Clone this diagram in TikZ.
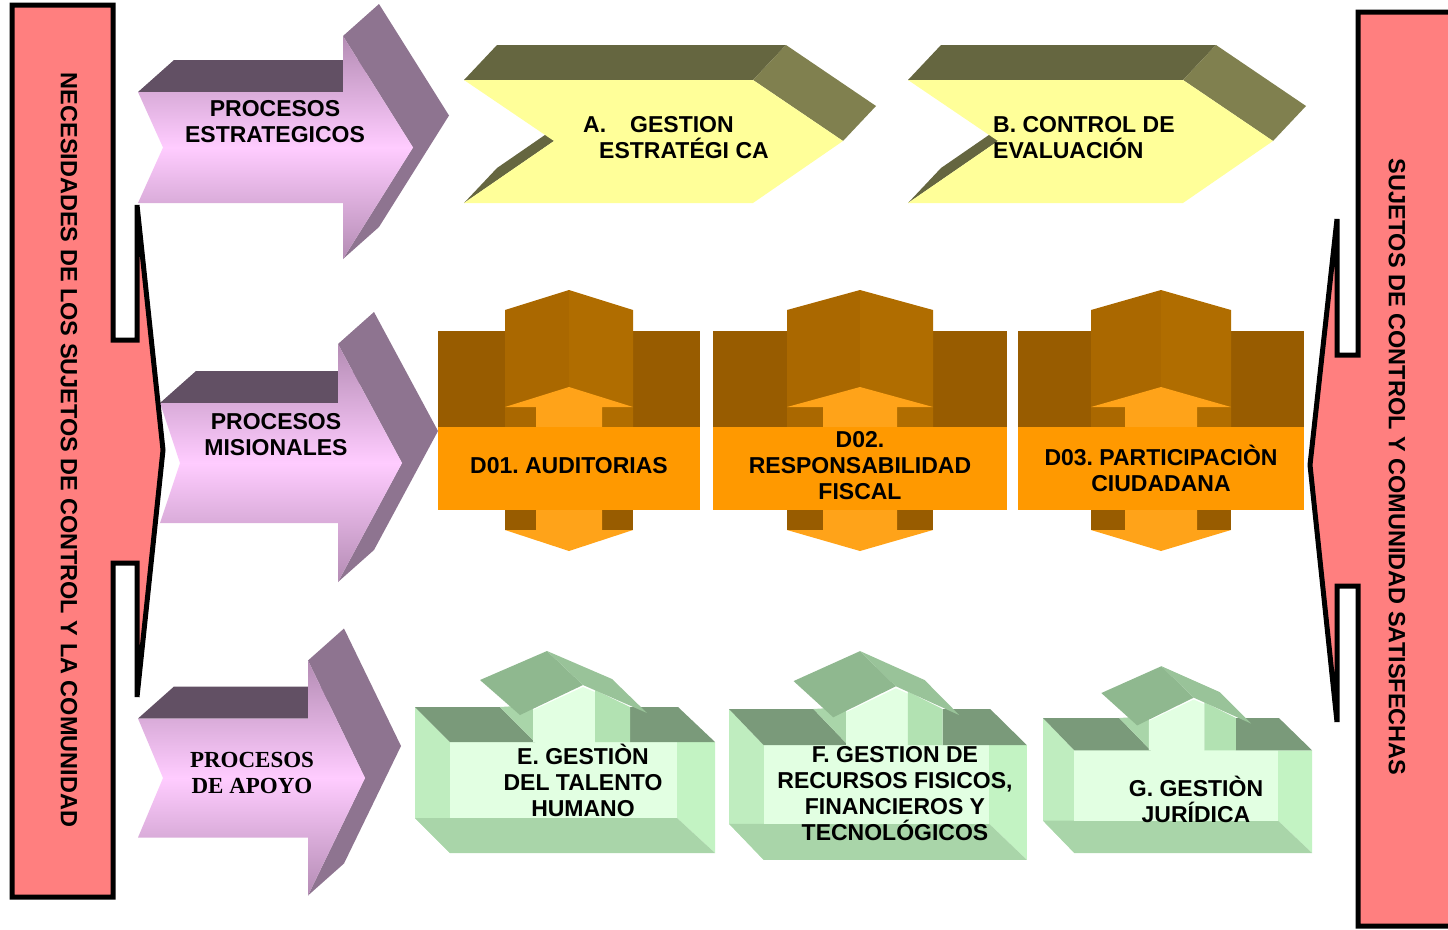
\documentclass[tikz,border=0pt]{standalone}
\usepackage{fontspec}
\setmainfont{Liberation Sans}
\newfontfamily\apoyofont{Liberation Serif}
\usepackage{xcolor}
\usepackage{tikz}

\definecolor{barred}{HTML}{FF7F7F}
\definecolor{procdark}{HTML}{625064}
\definecolor{procside}{HTML}{8E7490}
\definecolor{procedge}{HTML}{B48CB4}
\definecolor{proclight}{HTML}{FFCCFF}
\definecolor{chevyellow}{HTML}{FFFF99}
\definecolor{olivedark}{HTML}{656640}
\definecolor{oliveside}{HTML}{80804F}
\definecolor{mbrown}{HTML}{985C00}
\definecolor{mpentl}{HTML}{AA6800}
\definecolor{mpentr}{HTML}{B06D00}
\definecolor{morange}{HTML}{FF9900}
\definecolor{marrow}{HTML}{FFA319}
\definecolor{gfront}{HTML}{E2FFE2}
\definecolor{gleft}{HTML}{BFEDBF}
\definecolor{gright}{HTML}{C3F3C3}
\definecolor{gbottom}{HTML}{A9D5A9}
\definecolor{gtop}{HTML}{7A9A7A}
\definecolor{gside}{HTML}{B2E2B2}
\definecolor{groofl}{HTML}{8FB88F}
\definecolor{groofr}{HTML}{99C399}

\newcommand{\procarrow}[7]{%
  \fill[procdark] ({#1},{#3-#4}) -- ({#1+36},{#3-#4-32}) -- ({#5+36},{#3-#4-32}) -- ({#5},{#3-#4}) -- cycle;
  \fill[procside] ({#5},{#3-#6}) -- ({#5+36},{#3-#6-32}) -- ({#7+36},{#3-32}) -- ({#5+36},{#3+#6-32}) -- ({#5},{#3+#6}) -- ({#7},{#3}) -- cycle;
  \shade[top color=procedge, bottom color=procedge, middle color=proclight]
    ({#1},{#3-#4}) -- ({#5},{#3-#4}) -- ({#5},{#3-#6}) -- ({#7},{#3}) -- ({#5},{#3+#6}) -- ({#5},{#3+#4}) -- ({#1},{#3+#4}) -- ({#2},{#3}) -- cycle;
}

\newcommand{\strchevron}[2]{%
  \fill[olivedark] ({#1},80) -- ({#1+33},45) -- ({#1+#2+33},45) -- ({#1+#2},80) -- cycle;
  \fill[oliveside] ({#1+#2},80) -- ({#1+#2+33},45) -- ({#1+#2+123},106) -- ({#1+#2+90},141) -- cycle;
  \fill[olivedark] ({#1},203) -- ({#1+33},168) -- ({#1+123},106) -- ({#1+90},141) -- cycle;
  \fill[chevyellow] ({#1},80) -- ({#1+#2},80) -- ({#1+#2+90},141) -- ({#1+#2},203) -- ({#1},203) -- ({#1+90},141) -- cycle;
}

\newcommand{\misblock}[4]{%
  \fill[mbrown] ({#1-#2},331) rectangle ({#1+#2},427);
  \fill[mpentl] ({#1-#3},427) -- ({#1-#3},310) -- ({#1},290) -- ({#1},427) -- cycle;
  \fill[mpentr] ({#1},427) -- ({#1},290) -- ({#1+#3},310) -- ({#1+#3},427) -- cycle;
  \fill[mbrown] ({#1-#3},505) rectangle ({#1+#3},530);
  \fill[marrow] ({#1-#4},407) -- ({#1-#3},407) -- ({#1},387) -- ({#1+#3},407) -- ({#1+#4},407) -- ({#1+#4},530)
    -- ({#1+#3},530) -- ({#1},551) -- ({#1-#3},530) -- ({#1-#4},530) -- cycle;
  \fill[morange] ({#1-#2},427) rectangle ({#1+#2},510);
}

\newcommand{\supblock}{%
  \fill[gleft] (0,0) -- (35,35) -- (35,146) -- (0,111) -- cycle;
  \fill[gright] (262,35) -- (300,35) -- (300,146) -- (262,111) -- cycle;
  \fill[gbottom] (0,111) -- (262,111) -- (300,146) -- (35,146) -- cycle;
  \fill[gfront] (35,35) rectangle (262,111);
  \fill[gtop] (0,0) -- (85,0) -- (120,35) -- (35,35) -- cycle;
  \fill[gtop] (215,0) -- (263,0) -- (300,35) -- (215,35) -- cycle;
  \fill[gbottom] (85,0) -- (118,-2) -- (118,35) -- (120,35) -- cycle;
  \fill[gfront] (118,35) -- (118,3) -- (168,-20) -- (180,-15) -- (180,35) -- cycle;
  \fill[gside] (180,-17) -- (215,0) -- (215,35) -- (180,35) -- cycle;
  \fill[groofl] (65,-27) -- (132,-56) -- (168,-22) -- (105,8) -- cycle;
  \fill[groofr] (132,-56) -- (197,-28) -- (232,6) -- (168,-22) -- cycle;
}

\begin{document}
\frenchspacing
\begin{tikzpicture}[x=1pt, y=-1pt,
  lbl/.style={font=\bfseries\fontsize{23}{26}\selectfont, align=center, inner sep=0pt},
  side/.style={font=\bfseries\fontsize{23.5}{26}\selectfont, rotate=-90, inner sep=0pt}]
\useasboundingbox (0,0) rectangle (1448,929);
\clip (0,0) rectangle (1448,929);

\procarrow{138}{163}{147.5}{55.5}{343}{111.5}{413}
\procarrow{160}{180}{463}{60}{338}{119}{402}
\procarrow{138}{163}{778}{59.5}{308}{117.5}{365}

\strchevron{464}{289}
\strchevron{908}{275}

\misblock{569}{131}{64}{33}
\misblock{860}{147}{73}{37}
\misblock{1161}{143}{70}{36}

\begin{scope}[shift={(415,707)}]
\supblock
\end{scope}
\begin{scope}[shift={(729,709)}, xscale=0.993, yscale=1.034]
\supblock
\end{scope}
\begin{scope}[shift={(1043,718)}, xscale=0.897, yscale=0.925]
\supblock
\end{scope}

\draw[line width=5pt, fill=barred] (12,5) -- (113,5) -- (113,340) -- (137,340) -- (137,205) -- (163,450)
  -- (137,697) -- (137,563) -- (113,563) -- (113,897) -- (12,897) -- cycle;
\draw[line width=5pt, fill=barred] (1470,12) -- (1358,12) -- (1358,355) -- (1337,355) -- (1337,219) -- (1310,465)
  -- (1337,722) -- (1337,586) -- (1358,586) -- (1358,926) -- (1470,926);

\node[side] (nec) at (69,450) {NECESIDADES DE LOS SUJETOS DE CONTROL Y LA COMUNIDAD};
\node[side] (suj) at (1397,467) {SUJETOS DE CONTROL Y COMUNIDAD SATISFECHAS};

\node[lbl] (pest) at (275,122) {PROCESOS\\ESTRATEGICOS};
\node[lbl] (pmis) at (276,435) {PROCESOS\\MISIONALES};
\node[lbl, font=\apoyofont\bfseries\fontsize{23}{26}\selectfont] (papo) at (252,773) {PROCESOS\\DE APOYO};

\node[lbl, align=left, anchor=west] (gest) at (583,138) {A.\hspace{24pt}GESTION\\\hspace{16pt}ESTRATÉGI CA};
\node[lbl, align=left, anchor=west] (ctrl) at (993,138) {B. CONTROL DE\\EVALUACIÓN};

\node[lbl] (aud) at (569,466) {D01. AUDITORIAS};
\node[lbl] (resp) at (860,466) {D02.\\RESPONSABILIDAD\\FISCAL};
\node[lbl] (part) at (1161,468) {D03. PARTICIPACIÒN\\CIUDADANA};

\node[lbl] (tal) at (583,780) {E. GESTIÒN\\DEL TALENTO\\HUMANO};
\node[lbl] (rec) at (895,794) {F. GESTION DE\\RECURSOS FISICOS,\\FINANCIEROS Y\\TECNOLÓGICOS};
\node[lbl] (jur) at (1196,799) {G. GESTIÒN\\JURÍDICA};
\end{tikzpicture}
\end{document}
